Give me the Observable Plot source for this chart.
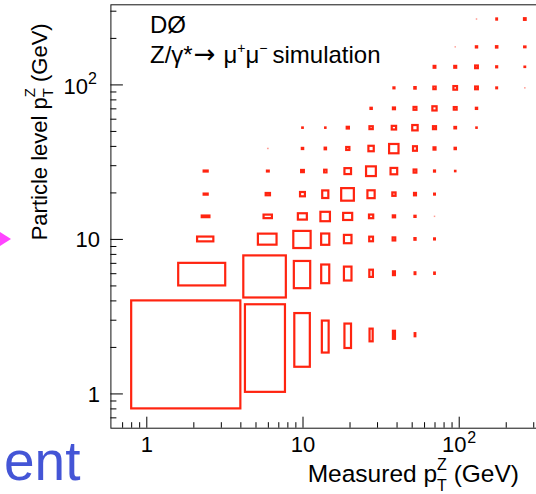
<!DOCTYPE html>
<html><head><meta charset="utf-8">
<script src="https://cdn.jsdelivr.net/npm/d3@7"></script>
<script src="https://cdn.jsdelivr.net/npm/@observablehq/plot@0.6"></script>
<style>
html,body{margin:0;padding:0;overflow:hidden;background:#fff;}
#wrap{position:relative;width:560px;height:494px;overflow:hidden;}
#wrap svg{display:block;position:absolute;left:0;top:0;}
#tri{position:absolute;left:0;top:232px;width:0;height:0;border-top:7px solid transparent;border-bottom:7px solid transparent;border-left:11px solid #ff44ff;z-index:2;}
</style></head><body><div id="wrap"><div id="tri"></div></div>
<script>
// Bin edges (GeV), identical for measured (x) and particle level (y)
const binEdges = [0.8, 4, 8, 12, 16, 23, 32, 45, 60, 80, 110, 150, 200, 330];
// Relative bin contents (max = 100); one array per particle-level (y) bin, columns = measured bins
const row1  = [100, 74, 32.5, 12.3, 7.3, 2.0, 0.8, 0.12, 0, 0, 0, 0, 0];
const row2  = [25, 83, 36, 17.2, 9.6, 2.6, 0.72, 0.16, 0.09, 0, 0, 0, 0];
const row3  = [3.2, 16.8, 40.3, 17.6, 9.6, 2.9, 1.3, 0.36, 0.16, 0, 0, 0, 0];
const row4  = [0.72, 3.4, 10.9, 24, 13.7, 3.6, 1.0, 0.36, 0.02, 0, 0, 0, 0];
const row5  = [0.2, 0.9, 3.2, 9.9, 27, 10.6, 2.0, 1.0, 0.16, 0, 0, 0, 0];
const row6  = [0.2, 0.16, 1.0, 1.44, 7.3, 19.4, 8.4, 2.0, 0.25, 0.04, 0, 0, 0];
const row7  = [0, 0.015, 0.25, 0.5, 1.7, 5.8, 16.8, 4.0, 1.0, 0.36, 0, 0, 0];
const row8  = [0, 0, 0.04, 0.04, 0.8, 2.25, 3.6, 7.8, 2.4, 0.56, 0.04, 0, 0];
const row9  = [0, 0, 0, 0, 0, 0.36, 0.8, 2.25, 4.8, 1.8, 0.36, 0, 0];
const row10 = [0, 0, 0, 0, 0, 0, 0.2, 0.5, 1.44, 2.9, 1.7, 0.16, 0.015];
const row11 = [0, 0, 0, 0, 0, 0, 0, 0, 0.8, 0.8, 1.7, 0.25, 0.04];
const row12 = [0, 0, 0, 0, 0, 0, 0, 0, 0, 0.015, 0.36, 0.5, 0.16];
const row13 = [0, 0, 0, 0, 0, 0, 0, 0, 0, 0, 0.015, 0.12, 0.25];
const rows = [row1,row2,row3,row4,row5,row6,row7,row8,row9,row10,row11,row12,row13];

const majorTicks = [1, 10, 100];
const tickBase = ["1", "10", "10"];
const tickExp = ["", "", "2"];
const minorTicks = [0.7,0.8,0.9,2,3,4,5,6,7,8,9,20,30,40,50,60,70,80,90,200,300];

const xDomain = [0.589, 330], yDomain = [0.6, 330];
const RED = "#ff2410";

// ROOT "BOX" style: box centred (linearly) in the bin, scaled by sqrt(content/max)
const vmax = d3.max(rows.flat());
const cells = [];
rows.forEach((row, i) => row.forEach((v, j) => {
  if (!(v > 0)) return;
  const r = Math.sqrt(v / vmax);
  const xc = (binEdges[j] + binEdges[j+1]) / 2, hx = (binEdges[j+1] - binEdges[j]) / 2 * r;
  const yc = (binEdges[i] + binEdges[i+1]) / 2, hy = (binEdges[i+1] - binEdges[i]) / 2 * r;
  cells.push({x1: Math.max(xc - hx, xDomain[0]), x2: xc + hx, y1: Math.max(yc - hy, yDomain[0]), y2: yc + hy, r});
}));

const labels = majorTicks.map((v, i) => ({v, base: tickBase[i], exp: tickExp[i]}));
const plain = labels.filter(d => !d.exp), withExp = labels.filter(d => d.exp);

const W = 560, H = 494, mL = 110.4, mR = 20.3, mT = 4.3, mB = 66.3;
const pw = W - mL - mR, ph = H - mT - mB;
const font = "'Liberation Sans', Arial, Helvetica, sans-serif";

const chart = Plot.plot({
  width: W, height: H,
  marginLeft: mL, marginRight: mR, marginTop: mT, marginBottom: mB,
  x: {type: "log", domain: xDomain, axis: null},
  y: {type: "log", domain: yDomain, axis: null},
  style: {fontFamily: font, background: "white", maxWidth: "none", overflow: "visible", color: "#000"},
  marks: [
    Plot.rect(cells, {x1: "x1", x2: "x2", y1: "y1", y2: "y2", fill: "none", stroke: RED,
      strokeWidth: d => d.r < 0.02 ? 1.2 : 2.2, strokeOpacity: d => d.r < 0.02 ? 0.45 : 1}),
    Plot.frame({stroke: "#111", strokeWidth: 1}),
    Plot.tickX(majorTicks, {x: d => d, stroke: "#000", insetTop: ph - 11}),
    Plot.tickX(minorTicks, {x: d => d, stroke: "#000", insetTop: ph - 5.5}),
    Plot.tickY(majorTicks, {y: d => d, stroke: "#000", insetRight: pw - 12.5}),
    Plot.tickY(minorTicks, {y: d => d, stroke: "#000", insetRight: pw - 6}),
    // x tick labels
    Plot.text(plain, {x: "v", text: "base", frameAnchor: "bottom", dy: 23.5, fontSize: 22, fill: "#000"}),
    Plot.text(withExp, {x: "v", text: "base", frameAnchor: "bottom", dy: 23.5, dx: -5, fontSize: 22, fill: "#000"}),
    Plot.text(withExp, {x: "v", text: "exp", frameAnchor: "bottom", dy: 15, dx: 8, textAnchor: "start", fontSize: 16, fill: "#000"}),
    // y tick labels
    Plot.text(plain, {y: "v", text: "base", frameAnchor: "left", dx: -11, dy: 1, textAnchor: "end", fontSize: 22, fill: "#000"}),
    Plot.text(withExp, {y: "v", text: "base", frameAnchor: "left", dx: -23, dy: 2, textAnchor: "end", fontSize: 22, fill: "#000"}),
    Plot.text(withExp, {y: "v", text: "exp", frameAnchor: "left", dx: -23, dy: -6, textAnchor: "start", fontSize: 16, fill: "#000"})
  ]
});
document.getElementById("wrap").appendChild(chart);

const svg = d3.select(chart);
const g = svg.append("g").attr("font-family", font).attr("fill", "#000").attr("text-anchor", "start");
g.append("text").attr("x", 150).attr("y", 33).attr("font-size", 24).text("DØ");
const st = g.append("text").attr("x", 150).attr("y", 63).attr("font-size", 24);
st.append("tspan").text("Z/γ*");
st.append("tspan").attr("font-family", "'DejaVu Sans', sans-serif").attr("font-size", 26).attr("dx", 1).text("→");
st.append("tspan").attr("dx", 8).text("μ");
st.append("tspan").attr("font-size", 14).attr("dy", -10).text("+");
st.append("tspan").attr("dy", 10).text("μ");
st.append("tspan").attr("font-size", 14).attr("dy", -10).text("−");
st.append("tspan").attr("dy", 10).attr("dx", 5).text("simulation");

const xt = g.append("text").attr("x", 519).attr("y", 482).attr("text-anchor", "end").attr("font-size", 24.5);
xt.append("tspan").text("Measured p");
xt.append("tspan").attr("font-size", 16).attr("dy", -12).text("Z");
xt.append("tspan").attr("font-size", 16).attr("dx", -9.8).attr("dy", 21).text("T");
xt.append("tspan").attr("dy", -9).text(" (GeV)");

const yt = g.append("text").attr("transform", "translate(46.7,23.3) rotate(-90)").attr("text-anchor", "end").attr("font-size", 22);
yt.append("tspan").text("Particle level p");
yt.append("tspan").attr("font-size", 15).attr("dy", -12).text("Z");
yt.append("tspan").attr("font-size", 15).attr("dx", -9.2).attr("dy", 18).text("T");
yt.append("tspan").attr("dy", -6).text(" (GeV)");

g.append("text").attr("x", 4).attr("y", 480).attr("font-size", 55).attr("fill", "#4455d6").text("ent");
</script></body></html>
